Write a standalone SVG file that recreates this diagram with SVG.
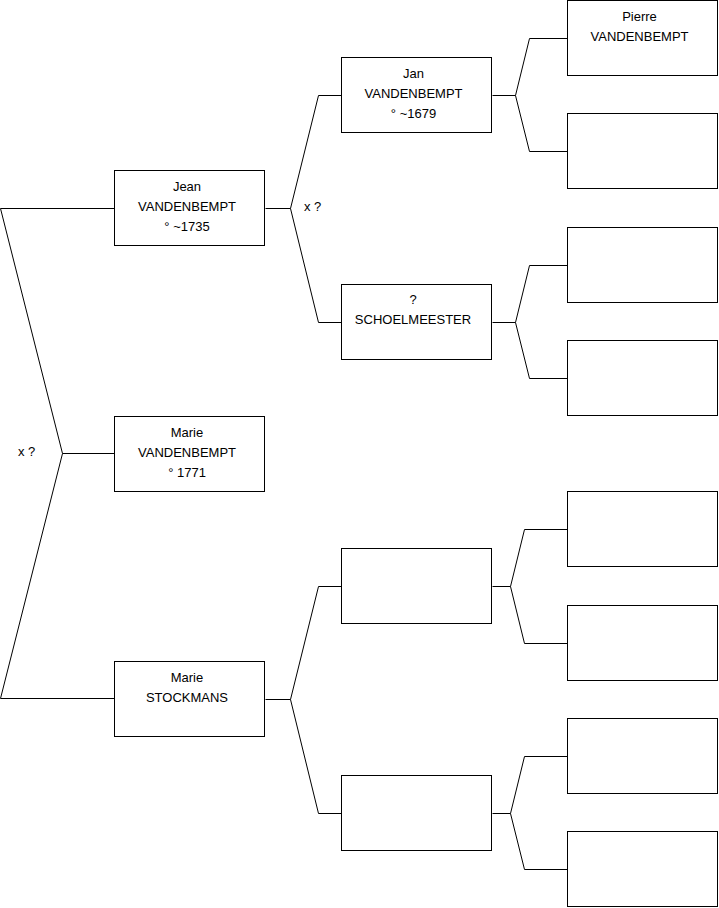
<svg xmlns="http://www.w3.org/2000/svg" width="719" height="908" viewBox="0 0 719 908">
<style>
.box{fill:#fff;stroke:#000;stroke-width:1}
.ln{fill:none;stroke:#000;stroke-width:1}
text{font-family:"Liberation Sans",Arial,sans-serif;font-size:13px;fill:#000}
.c{text-anchor:middle}
</style>
<rect width="719" height="908" fill="#fff"/>
<g id="connectors">
<path class="ln" d="M114.5,208.5 H0.5 L62.5,453.5 L0.5,698.5 H114.5 M62.5,453.5 H114.5"/>
<path class="ln" d="M265.5,208.5 H290.5 L318.5,95.5 H341.5 M290.5,208.5 L318.5,322.5 H341.5"/>
<path class="ln" d="M265.5,699.5 H290.5 L318.5,586.5 H341.5 M290.5,699.5 L318.5,813.5 H341.5"/>
<path class="ln" d="M492.5,95.5 H515.5 L529.5,38.5 H567.5 M515.5,95.5 L529.5,151.5 H567.5"/>
<path class="ln" d="M492.5,322.5 H515.5 L529.5,265.5 H567.5 M515.5,322.5 L529.5,378.5 H567.5"/>
<path class="ln" d="M492.5,586.5 H510.5 L524.5,529.5 H567.5 M510.5,586.5 L524.5,643.5 H567.5"/>
<path class="ln" d="M492.5,813.5 H510.5 L524.5,756.5 H567.5 M510.5,813.5 L524.5,869.5 H567.5"/>
<text x="18" y="456">x ?</text>
<text x="304" y="211">x ?</text>
</g>
<g id="jean"><rect class="box" x="114.5" y="170.5" width="150" height="75"/>
<text class="c" x="187" y="191">Jean</text><text class="c" x="187" y="211">VANDENBEMPT</text><text class="c" x="187" y="231">° ~1735</text></g>
<g id="marie-v"><rect class="box" x="114.5" y="416.5" width="150" height="75"/>
<text class="c" x="187" y="437">Marie</text><text class="c" x="187" y="457">VANDENBEMPT</text><text class="c" x="187" y="477">° 1771</text></g>
<g id="marie-s"><rect class="box" x="114.5" y="661.5" width="150" height="75"/>
<text class="c" x="187" y="682">Marie</text><text class="c" x="187" y="702">STOCKMANS</text></g>
<g id="jan"><rect class="box" x="341.5" y="57.5" width="150" height="75"/>
<text class="c" x="413.5" y="78">Jan</text><text class="c" x="413.5" y="98">VANDENBEMPT</text><text class="c" x="413.5" y="118">° ~1679</text></g>
<g id="schoelmeester"><rect class="box" x="341.5" y="284.5" width="150" height="75"/>
<text class="c" x="413" y="304">?</text><text class="c" x="413" y="324">SCHOELMEESTER</text></g>
<g id="empty-m1"><rect class="box" x="341.5" y="548.5" width="150" height="75"/></g>
<g id="empty-m2"><rect class="box" x="341.5" y="775.5" width="150" height="75"/></g>
<g id="pierre"><rect class="box" x="567.5" y="0.5" width="150" height="75"/>
<text class="c" x="639.5" y="21">Pierre</text><text class="c" x="639.5" y="41">VANDENBEMPT</text></g>
<g id="empty-r2"><rect class="box" x="567.5" y="113.5" width="150" height="75"/></g>
<g id="empty-r3"><rect class="box" x="567.5" y="227.5" width="150" height="75"/></g>
<g id="empty-r4"><rect class="box" x="567.5" y="340.5" width="150" height="75"/></g>
<g id="empty-r5"><rect class="box" x="567.5" y="491.5" width="150" height="75"/></g>
<g id="empty-r6"><rect class="box" x="567.5" y="605.5" width="150" height="75"/></g>
<g id="empty-r7"><rect class="box" x="567.5" y="718.5" width="150" height="75"/></g>
<g id="empty-r8"><rect class="box" x="567.5" y="831.5" width="150" height="75"/></g>
</svg>
